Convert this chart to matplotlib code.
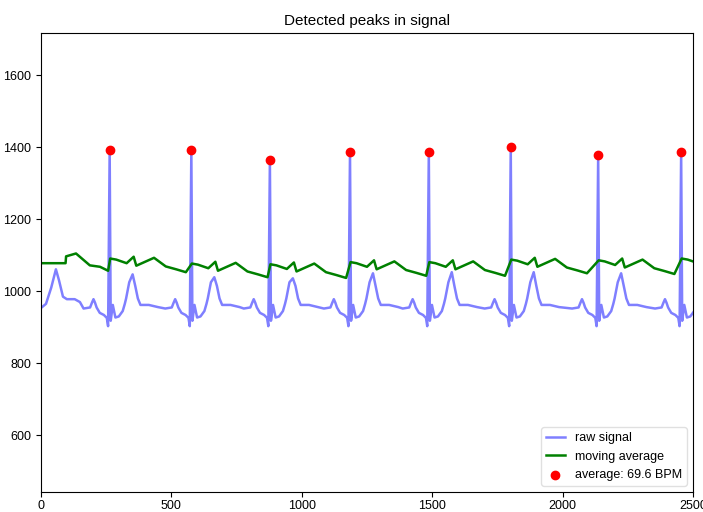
import numpy as np
import matplotlib.pyplot as plt

plt.rcParams['font.family'] = ['Liberation Sans', 'DejaVu Sans']

# R peak positions (sample index) and heights
peak_x = [264, 577, 878, 1185, 1487, 1801, 2136, 2454]
peak_y = [1393, 1393, 1364, 1388, 1388, 1400, 1378, 1388]
t_wave = [1047, 1039, 1036, 1050, 1053, 1053, 1050, 1050]

# raw signal before the first detected beat
lead_x = [0, 20, 40, 58, 70, 85, 100, 130, 150]
lead_y = [953, 965, 1010, 1061, 1030, 985, 978, 978, 970]

# one heartbeat around its R peak (offset from R, value)
pre_off = [-100, -75, -68, -62, -56, -50, -38, -22, -11, -6]
pre_val = [952, 955, 968, 978, 968, 955, 940, 934, 926, 903]
post_off = [4, 12, 22, 35, 50, 58, 63, 75, 98, 108, 118, 150, 185]
post_val = [918, 962, 927, 930, 945, 965, 980, 1025, 1015, 980, 962, 962, 956]
t_off = 88

# moving average: flat start, then shape after each R peak
avg_lead_x = [0, 95, 97, 135, 188, 227, 258]
avg_lead_y = [1078, 1078, 1097, 1105, 1072, 1068, 1057]
avg_level = [1091, 1077, 1075, 1081, 1081, 1088, 1086, 1091]
avg_off = [2, 25, 65, 92, 102, 170, 215, 255, 292]
avg_delta = [0, -3, -13, 5, -20, 2, -22, -30, -38]

bpm = 69.6

raw_x = list(lead_x)
raw_y = list(lead_y)
mov_x = list(avg_lead_x)
mov_y = list(avg_lead_y)
for r, h, t, lv in zip(peak_x, peak_y, t_wave, avg_level):
    raw_x += [r + o for o in pre_off] + [r]
    raw_y += pre_val + [h]
    post = sorted(zip(post_off + [t_off], post_val + [t]))
    raw_x += [r + o for o, v in post]
    raw_y += [v for o, v in post]
    mov_x += [r + o for o in avg_off]
    mov_y += [lv + d for d in avg_delta]

fig = plt.figure(figsize=(7.03, 5.12), dpi=100)
ax = fig.add_axes([0.058, 0.039, 0.928, 0.896])
ax.set_title("Detected peaks in signal", fontsize=11)
ax.set_xlim(0, 2500)
ax.set_ylim(442, 1717)
ax.plot(raw_x, raw_y, alpha=0.5, color='blue', lw=1.8, label="raw signal")
ax.plot(mov_x, mov_y, color='green', lw=1.8, label="moving average")
ax.scatter(peak_x, peak_y, color='red', label="average: %.1f BPM" % bpm, zorder=3)
ax.set_yticks([600, 800, 1000, 1200, 1400, 1600])
ax.set_xticks([0, 500, 1000, 1500, 2000, 2500])
ax.tick_params(labelsize=9)
ax.tick_params(axis='x', pad=2)
ax.legend(loc=4, framealpha=0.6, fontsize=9, handlelength=1.5)

fig.savefig("out.png", dpi=100)
